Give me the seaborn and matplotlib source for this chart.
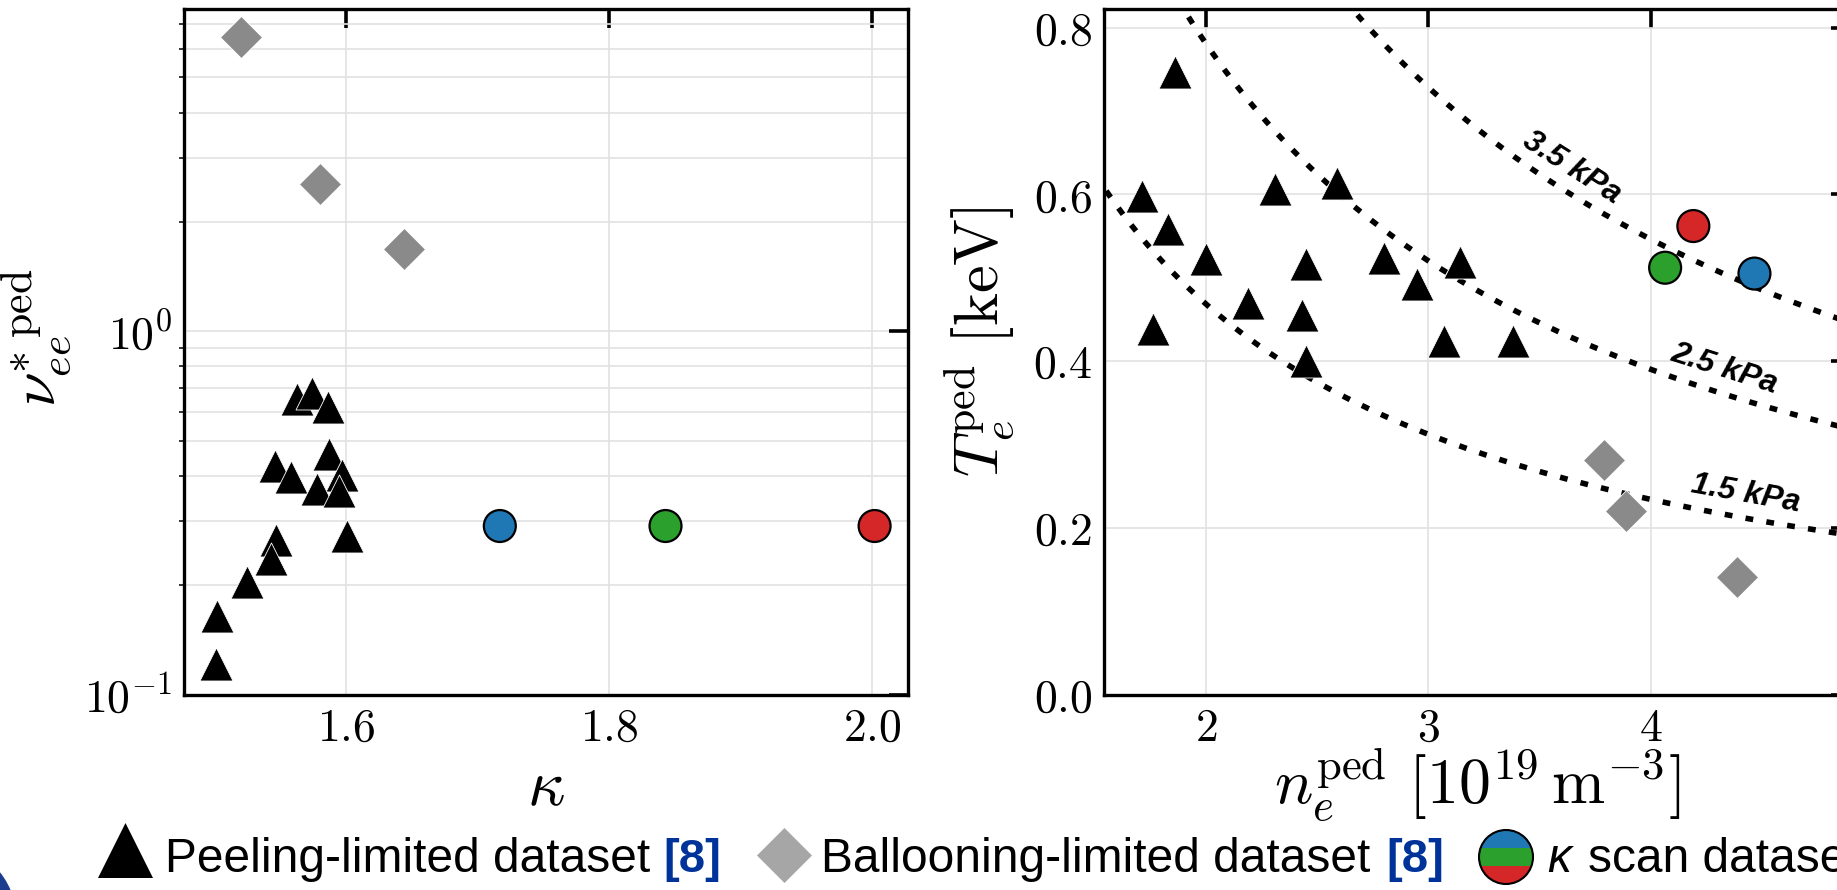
import numpy as np
import matplotlib
matplotlib.use("Agg")
import matplotlib.pyplot as plt
import seaborn as sns
from matplotlib.ticker import FixedLocator, FuncFormatter, NullFormatter, LogLocator
from matplotlib.patches import Circle, Rectangle

# ---------------------------------------------------------------- data
# Peeling-limited pedestals: elongation vs. collisionality
peel_kappa = [1.563, 1.574, 1.586, 1.587, 1.546, 1.558, 1.597, 1.578,
              1.595, 1.601, 1.547, 1.543, 1.525, 1.502, 1.501]
peel_nu = [0.653, 0.677, 0.617, 0.458, 0.425, 0.398, 0.403, 0.369,
           0.364, 0.274, 0.266, 0.236, 0.204, 0.164, 0.121]

# Ballooning-limited pedestals: elongation vs. collisionality
ball_kappa = [1.520, 1.580, 1.644]
ball_nu = [6.45, 2.55, 1.68]

# kappa-scan cases
scan_names = ["kappa_low", "kappa_mid", "kappa_high"]
scan_colors = {"kappa_low": "#1f77b4", "kappa_mid": "#2ca02c", "kappa_high": "#d62728"}
scan_kappa = [1.717, 1.843, 2.002]
scan_nu = [0.291, 0.291, 0.291]

# Pedestal density [1e19 m^-3] and temperature [keV]
peel_ne = [1.86, 1.71, 1.83, 2.00, 1.76, 2.31, 2.59, 2.45,
           2.19, 2.43, 2.45, 2.80, 2.95, 3.14, 3.07, 3.38]
peel_te = [0.747, 0.598, 0.559, 0.523, 0.438, 0.606, 0.614, 0.517,
           0.470, 0.455, 0.400, 0.524, 0.493, 0.519, 0.424, 0.424]
ball_ne = [3.79, 3.89, 4.39]
ball_te = [0.281, 0.220, 0.141]
scan_ne = [4.467, 4.065, 4.192]
scan_te = [0.505, 0.512, 0.562]

# Isobars p = n_e T_e [kPa] and where their labels sit
pressure_kpa = [1.5, 2.5, 3.5]
label_ne = [4.41, 4.30, 3.59]
KPA_PER_NT = 1.602  # 1e19 m^-3 * 1 keV = 1.602 kPa

# ---------------------------------------------------------------- style
sns.set_theme(style="white")
plt.rcParams.update({
    "font.family": ["Liberation Sans", "DejaVu Sans"],
    "mathtext.fontset": "cm",
    "axes.edgecolor": "black",
    "axes.linewidth": 2.4,
    "text.color": "black",
    "axes.labelcolor": "black",
    "xtick.color": "black",
    "ytick.color": "black",
})

W, H = 1837, 890
fig = plt.figure(figsize=(W / 100, H / 100), dpi=100)


def px_axes(left, top, right, bottom):
    return fig.add_axes([left / W, 1 - bottom / H, (right - left) / W, (bottom - top) / H])


ax1 = px_axes(183.7, 8.5, 908.0, 694.5)
ax2 = px_axes(1103.6, 8.5, 1850.0, 694.5)

TRI_S, DIA_S, CIR_S = 565, 457, 529
GRID_KW = dict(color="#e2e2e2", linewidth=1.2)
TICK_FS = 33
LABEL_FS = 45

# ---------------------------------------------------------------- left panel
sns.scatterplot(x=peel_kappa, y=peel_nu, marker="^", s=TRI_S, color="black",
                edgecolor="white", linewidth=0.6, ax=ax1, zorder=3)
sns.scatterplot(x=ball_kappa, y=ball_nu, marker="D", s=DIA_S, color="#8a8a8a",
                edgecolor="white", linewidth=0.6, ax=ax1, zorder=3)
sns.scatterplot(x=scan_kappa, y=scan_nu, hue=scan_names, palette=scan_colors,
                marker="o", s=CIR_S, edgecolor="black", linewidth=1.6,
                legend=False, ax=ax1, zorder=4)
ax1.set_yscale("log")
ax1.set_xlim(1.4766, 2.0274)
ax1.set_ylim(0.1, 7.74)
ax1.xaxis.set_major_locator(FixedLocator([1.6, 1.8, 2.0]))
ax1.xaxis.set_major_formatter(FuncFormatter(lambda v, p: f"${v:.1f}$"))
ax1.yaxis.set_major_locator(LogLocator(base=10, numticks=10))
ax1.yaxis.set_minor_locator(LogLocator(base=10, subs=np.arange(2, 10), numticks=30))
ax1.yaxis.set_major_formatter(
    FuncFormatter(lambda v, p: rf"$10^{{{int(np.round(np.log10(v)))}}}$"))
ax1.yaxis.set_minor_formatter(NullFormatter())
ax1.grid(True, which="major", axis="x", **GRID_KW)
ax1.grid(True, which="both", axis="y", **GRID_KW)
ax1.set_axisbelow(True)
ax1.tick_params(which="major", direction="in", length=14, width=2.6,
                top=True, right=True, labelsize=TICK_FS, pad=8, color="black")
ax1.tick_params(axis="x", which="major", pad=9)
ax1.tick_params(axis="y", which="minor", direction="out", length=3.6, width=1.1,
                left=True, right=False, color="black")
ax1.set_xlabel(r"$\kappa$", fontsize=LABEL_FS + 2, va="baseline")
ax1.xaxis.set_label_coords(0.5, -0.161)
ax1.set_ylabel(r"$\nu_{ee}^{*\ \mathrm{ped}}$", fontsize=LABEL_FS)
ax1.yaxis.set_label_coords(-0.152, 0.52)

# ---------------------------------------------------------------- right panel
ax2.set_xlim(1.538, 4.897)
ax2.set_ylim(0.0, 0.823)
n_grid = np.linspace(1.4, 5.0, 400)
for p in pressure_kpa:
    ax2.plot(n_grid, p / (KPA_PER_NT * n_grid), color="black", linewidth=4.0,
             linestyle=(0, (1.4, 2.4)), zorder=2)

for p, n0 in zip(pressure_kpa, label_ne):
    t0 = p / (KPA_PER_NT * n0)
    a = ax2.transData.transform((n0 - 0.01, p / (KPA_PER_NT * (n0 - 0.01))))
    b = ax2.transData.transform((n0 + 0.01, p / (KPA_PER_NT * (n0 + 0.01))))
    ang = np.arctan2(b[1] - a[1], b[0] - a[0])
    off = 17.0
    ax2.annotate(f"{p:g} kPa", xy=(n0, t0), xytext=(-off * np.sin(ang), off * np.cos(ang)),
                 textcoords="offset points", ha="center", va="center",
                 rotation=np.degrees(ang), rotation_mode="anchor",
                 fontsize=23, fontweight="bold", fontstyle="italic", color="black",
                 family=["Liberation Sans", "DejaVu Sans"], zorder=3)

sns.scatterplot(x=peel_ne, y=peel_te, marker="^", s=TRI_S, color="black",
                edgecolor="white", linewidth=0.6, ax=ax2, zorder=3)
sns.scatterplot(x=ball_ne, y=ball_te, marker="D", s=DIA_S, color="#8a8a8a",
                edgecolor="white", linewidth=0.6, ax=ax2, zorder=3)
sns.scatterplot(x=scan_ne, y=scan_te, hue=["kappa_low", "kappa_mid", "kappa_high"],
                palette=scan_colors, marker="o", s=CIR_S, edgecolor="black",
                linewidth=1.6, legend=False, ax=ax2, zorder=4)
ax2.set_xlim(1.538, 4.897)
ax2.set_ylim(0.0, 0.823)
ax2.xaxis.set_major_locator(FixedLocator([2, 3, 4]))
ax2.xaxis.set_major_formatter(FuncFormatter(lambda v, p: f"${v:g}$"))
ax2.yaxis.set_major_locator(FixedLocator([0.0, 0.2, 0.4, 0.6, 0.8]))
ax2.yaxis.set_major_formatter(FuncFormatter(lambda v, p: f"${v:.1f}$"))
ax2.grid(True, which="major", **GRID_KW)
ax2.set_axisbelow(True)
ax2.tick_params(which="major", direction="in", length=14, width=2.6,
                top=True, right=True, labelsize=TICK_FS, pad=8, color="black")
ax2.tick_params(axis="x", which="major", pad=9)
ax2.set_xlabel(r"$n_e^{\mathrm{ped}}\ [10^{19}\,\mathrm{m}^{-3}]$", fontsize=LABEL_FS + 1,
               va="baseline")
ax2.xaxis.set_label_coords(0.5, -0.161)
ax2.set_ylabel(r"$T_e^{\mathrm{ped}}\ [\mathrm{keV}]$", fontsize=LABEL_FS)
ax2.yaxis.set_label_coords(-0.116, 0.515)

for ax in (ax1, ax2):
    for sp in ax.spines.values():
        sp.set_visible(True)
        sp.set_color("black")
        sp.set_linewidth(2.4)

# ---------------------------------------------------------------- legend row
lax = fig.add_axes([0, 0, 1, 1])
lax.set_xlim(0, W)
lax.set_ylim(H, 0)
lax.set_axis_off()

lax.add_patch(Circle((-60, 920), 76, color="#1b3c8e", clip_on=False))

TXT = dict(fontsize=34.5, va="baseline", color="black",
           family=["Liberation Sans", "DejaVu Sans"])
REF = dict(fontsize=34, va="baseline", fontweight="bold", color="#003399",
           family=["Liberation Sans", "DejaVu Sans"])
base_y = 872

lax.scatter([125], [849.5], marker="^", s=1568, color="black", linewidth=0)
lax.text(165, base_y, "Peeling-limited dataset", **TXT)
lax.text(663, base_y, "[8]", **REF)

lax.scatter([783.5], [854.5], marker="D", s=784, color="#a6a6a6", linewidth=0)
lax.text(821, base_y, "Ballooning-limited dataset", **TXT)
lax.text(1386, base_y, "[8]", **REF)

cx, cy, r = 1506, 857, 27
clip = Circle((cx, cy), r, transform=lax.transData)
for k, name in enumerate(scan_names):
    band = Rectangle((cx - r, cy - r + k * 2 * r / 3), 2 * r, 2 * r / 3,
                     color=scan_colors[name], linewidth=0)
    lax.add_patch(band)
    band.set_clip_path(clip)
lax.add_patch(Circle((cx, cy), r, fill=False, edgecolor="black", linewidth=1.5))
lax.text(1547, base_y, "κ", fontstyle="italic", **TXT)
lax.text(1588, base_y, "scan dataset", **TXT)

fig.savefig("out.png", dpi=100)
